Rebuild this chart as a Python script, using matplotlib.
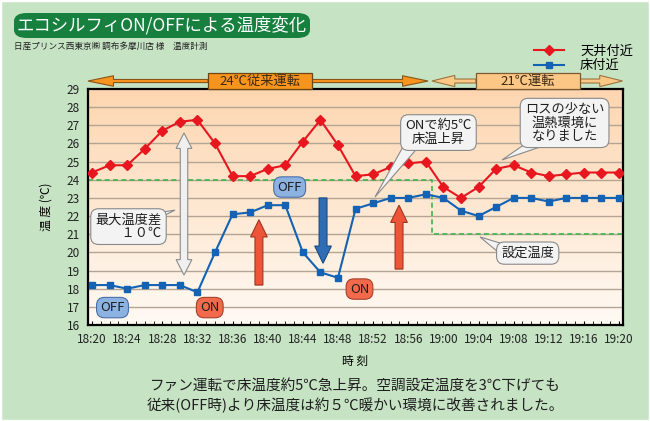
import matplotlib.pyplot as plt
import numpy as np
from matplotlib.patches import Polygon, Rectangle, FancyBboxPatch

plt.rcParams['font.family'] = ['Noto Sans CJK JP', 'DejaVu Sans']

# minutes after 18:20, every 2 minutes
minutes = np.arange(0, 61, 2)
ceiling = [24.4, 24.8, 24.8, 25.7, 26.7, 27.2, 27.3, 26.0, 24.2, 24.2, 24.6,
           24.8, 26.1, 27.3, 25.9, 24.2, 24.3, 24.7, 24.9, 25.0, 23.6, 23.0,
           23.6, 24.6, 24.8, 24.4, 24.2, 24.3, 24.4, 24.4, 24.4]
floor = [18.2, 18.2, 18.0, 18.2, 18.2, 18.2, 17.8, 20.0, 22.1, 22.2, 22.6,
         22.6, 20.0, 18.9, 18.6, 22.4, 22.7, 23.0, 23.0, 23.2, 23.0, 22.3,
         22.0, 22.5, 23.0, 23.0, 22.8, 23.0, 23.0, 23.0, 23.0]
set_times = [-0.5, 38.7, 38.7, 60.5]
set_temps = [24, 24, 21, 21]
tick_minutes = np.arange(0, 61, 4)
tick_labels = ['18:20', '18:24', '18:28', '18:32', '18:36', '18:40', '18:44', '18:48',
               '18:52', '18:56', '19:00', '19:04', '19:08', '19:12', '19:16', '19:20']

W, H = 650, 421
fig = plt.figure(figsize=(6.5, 4.21), dpi=100)
fig.patch.set_facecolor('#C6E3C4')
fig.patches.append(Rectangle((0, 0), 1, 1, transform=fig.transFigure, fill=False,
                             ec='white', lw=2.5))

ax = fig.add_axes([88 / W, 1 - 325 / H, 535 / W, 236 / H])

# background gradient
grad = np.linspace(0, 1, 256).reshape(-1, 1)
top = np.array([253, 214, 176]) / 255
bot = np.array([255, 250, 244]) / 255
img = top[None, None, :] * (1 - grad[..., None]) + bot[None, None, :] * grad[..., None]
ax.imshow(img, extent=[0, 1, 0, 1], transform=ax.transAxes, aspect='auto', zorder=0)

for v in range(17, 29):
    ax.axhline(v, color='#B3A494', lw=1, zorder=1)

ax.plot(set_times, set_temps, color='#3DB54A', lw=1.2, ls=(0, (3, 2)), zorder=2)
ax.plot(minutes, ceiling, color='#E8161E', lw=1.5, marker='D', ms=5, zorder=4, label='天井付近')
ax.plot(minutes, floor, color='#1462B4', lw=1.5, marker='s', ms=5, zorder=4, label='床付近')

ax.set_xlim(-0.46, 60.45)
ax.set_ylim(16, 29)
ax.set_yticks(range(16, 30))
ax.set_xticks(tick_minutes)
ax.set_xticklabels(tick_labels)
ax.set_xticks(np.arange(0, 61, 1), minor=True)
ax.tick_params(axis='y', length=0, labelsize=8.5, pad=6, labelcolor='#222222')
ax.tick_params(axis='x', which='both', direction='in', length=3, labelsize=8.5,
               pad=6, labelcolor='#222222')
for s in ax.spines.values():
    s.set_linewidth(1.6)
ax.set_xlabel('時 刻', fontsize=8.5, labelpad=6)
ax.set_ylabel('温 度 (℃)', fontsize=8.5, labelpad=10)


def v_arrow(x, y0, y1, w, hw, hl, fc, ec, double=False):
    s = np.sign(y1 - y0)
    if double:
        tail = [(x + w / 2, y0 + s * hl), (x + hw / 2, y0 + s * hl), (x, y0),
                (x - hw / 2, y0 + s * hl), (x - w / 2, y0 + s * hl)]
    else:
        tail = [(x + w / 2, y0), (x - w / 2, y0)]
    head = [(x - w / 2, y1 - s * hl), (x - hw / 2, y1 - s * hl), (x, y1),
            (x + hw / 2, y1 - s * hl), (x + w / 2, y1 - s * hl)]
    ax.add_patch(Polygon(tail + head, closed=True, fc=fc, ec=ec, lw=0.8, zorder=5))


def h_arrow(x0, x1, y, w, hw, hl, fc, ec):
    s = np.sign(x1 - x0)
    pts = [(x0, y - w / 2), (x1 - s * hl, y - w / 2), (x1 - s * hl, y - hw / 2), (x1, y),
           (x1 - s * hl, y + hw / 2), (x1 - s * hl, y + w / 2), (x0, y + w / 2)]
    ax.add_patch(Polygon(pts, closed=True, fc=fc, ec=ec, lw=0.8, zorder=6, clip_on=False))


# vertical arrows
v_arrow(10.47, 18.75, 26.58, 0.85, 1.8, 0.85, '#F0F0F0', '#8C8C8C', double=True)
v_arrow(19.0, 18.2, 21.8, 0.9, 1.9, 0.95, '#EE5538', '#A0341E')
v_arrow(34.95, 19.08, 22.6, 0.9, 1.9, 0.95, '#EE5538', '#A0341E')
v_arrow(26.3, 23.0, 19.4, 0.9, 1.9, 0.95, '#2E6DB4', '#174A84')

# operating mode bars above the plot
ya = 29.44
h_arrow(13.2, -0.46, ya, 0.17, 0.58, 2.9, '#F7941D', '#8A5418')
h_arrow(25.04, 38.25, ya, 0.17, 0.58, 2.9, '#F7941D', '#8A5418')
h_arrow(43.7, 38.7, ya, 0.22, 0.62, 2.6, '#FCC785', '#9C7440')
h_arrow(55.5, 60.4, ya, 0.22, 0.62, 2.6, '#FCC785', '#9C7440')
ax.add_patch(Rectangle((13.2, 29.0), 11.84, 0.88, fc='#F7941D', ec='#6E4510', lw=0.9,
                       zorder=7, clip_on=False))
ax.add_patch(Rectangle((43.7, 29.0), 11.8, 0.88, fc='#FCC785', ec='#7E5A30', lw=0.9,
                       zorder=7, clip_on=False))
ax.text(19.12, 29.44, '24℃従来運転', ha='center', va='center', fontsize=9.5,
        color='#3A2A12', zorder=8, clip_on=False)
ax.text(49.6, 29.44, '21℃運転', ha='center', va='center', fontsize=9.5,
        color='#3A2A12', zorder=8, clip_on=False)


# ON / OFF tags
def tag(x, y, s, fc, ec):
    ax.text(x, y, s, ha='center', va='center', fontsize=9.5, color='#1E1E1E', zorder=8,
            bbox=dict(boxstyle='round,pad=0.28,rounding_size=0.6', fc=fc, ec=ec, lw=0.8))


tag(22.5, 23.6, 'OFF', '#8CB2E2', '#4A6FA8')
tag(2.33, 16.96, 'OFF', '#8CB2E2', '#4A6FA8')
tag(13.4, 16.96, 'ON', '#F26A4B', '#A4412B')
tag(30.45, 17.98, 'ON', '#F26A4B', '#A4412B')


# speech-bubble callouts: box plus a triangular pointer
def callout(s, center, base, tip):
    ax.add_patch(Polygon([base[0], base[1], tip], closed=True, fc='#F3F3F3',
                         ec='#8A8A8A', lw=0.8, zorder=9))
    ax.text(center[0], center[1], s, ha='center', va='center', fontsize=9.5,
            linespacing=1.05, color='#1E1E1E', zorder=10,
            bbox=dict(boxstyle='round,pad=0.35,rounding_size=0.6', fc='#F3F3F3',
                      ec='#8A8A8A', lw=0.8))


callout('最大温度差\n　　１０℃', (4.15, 21.42), [(6.6, 22.11), (8.08, 22.0)], (9.45, 22.33))
callout('ONで約5℃\n床温上昇', (39.44, 26.6), [(35.51, 25.91), (37.34, 25.91)], (32.21, 23.05))
callout('ロスの少ない\n温熱環境に\nなりました', (53.8, 27.13), [(49.63, 26.08), (51.34, 25.86)],
        (46.67, 25.09))
callout('設定温度', (49.6, 19.96), [(46.22, 20.02), (47.58, 20.35)], (44.17, 20.85))

# title block
fig.patches.append(FancyBboxPatch((14 / W, 1 - 38 / H), 296 / W, 25 / H,
                                  boxstyle='round,pad=0,rounding_size=0.02',
                                  transform=fig.transFigure, fc='#17803F', ec='none',
                                  mutation_aspect=H / W * 1.5))
fig.text(162 / W, 1 - 25.5 / H, 'エコシルフィON/OFFによる温度変化', ha='center', va='center',
         fontsize=12.5, color='white')
fig.text(14 / W, 1 - 46 / H, '日産プリンス西東京㈱ 調布多摩川店 様　温度計測', ha='left',
         va='center', fontsize=6.2, color='#222222')

fig.legend(loc='upper left', bbox_to_anchor=(522 / W, 1 - 33 / H), frameon=False,
           fontsize=9.5, handlelength=2.3, labelspacing=0.1, handletextpad=1.2)

fig.text(355 / W, 1 - 386 / H, 'ファン運転で床温度約5℃急上昇。空調設定温度を3℃下げても',
         ha='center', va='center', fontsize=10.5, color='#1E1E1E')
fig.text(355 / W, 1 - 405 / H, '従来(OFF時)より床温度は約５℃暖かい環境に改善されました。',
         ha='center', va='center', fontsize=10.5, color='#1E1E1E')

fig.savefig('out.png', dpi=100, facecolor=fig.get_facecolor())
